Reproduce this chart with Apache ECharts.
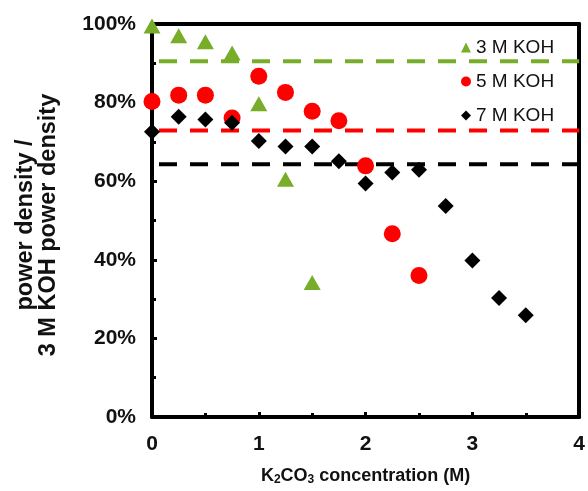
<!DOCTYPE html>
<html>
<head>
<meta charset="utf-8">
<script src="https://cdn.jsdelivr.net/npm/echarts@6/dist/echarts.min.js"></script>
<style>
  html, body { margin: 0; padding: 0; background: #fff; }
  #container { width: 588px; height: 491px; }
</style>
</head>
<body>
<div id="container"></div>
<script>
// K2CO3 concentration (M)
var conc = [0, 0.25, 0.5, 0.75, 1, 1.25, 1.5, 1.75, 2, 2.25, 2.5, 2.75, 3, 3.25, 3.5];

// power density relative to 3 M KOH (%)
var koh3 = [99.5, 97, 95.5, 92.6, 79.7, 60.5, 34.2];
var koh5 = [80.3, 81.9, 81.9, 76.1, 86.7, 82.6, 77.8, 75.4, 63.9, 46.6, 36.0];
var koh7 = [72.6, 76.4, 75.7, 74.9, 70.2, 68.8, 68.8, 65.1, 59.4, 62.2, 62.9, 53.7, 39.8, 30.3, 25.9];

// dashed reference levels (%)
var ref3 = 90.5;
var ref5 = 72.9;
var ref7 = 64.3;

var xTicks = [0, 1, 2, 3, 4];

var green = '#78ad29';
var red = '#ff0000';
var black = '#000000';

function pairs(vals) {
  return vals.map(function (v, i) { return [conc[i], v]; });
}
function level(v) {
  return [[xTicks[0], v], [xTicks[xTicks.length - 1], v]];
}

var dom = document.getElementById('container');
var myChart = echarts.init(dom);

var axisFont = { fontFamily: 'Liberation Sans', fontWeight: 'bold', fontSize: 21, color: '#111' };

function dashLine(name, v, color) {
  return {
    name: name,
    type: 'line',
    data: level(v),
    showSymbol: false,
    symbol: 'none',
    silent: true,
    animation: false,
    z: 1,
    lineStyle: { color: color, width: 4, type: [18, 13], dashOffset: 24 }
  };
}

var option = {
  animation: false,
  grid: { left: 152, top: 24, right: 5, bottom: 72, containLabel: false },
  legend: {
    data: ['3 M KOH', '5 M KOH', '7 M KOH'],
    orient: 'vertical',
    left: 456,
    top: 33,
    itemWidth: 10,
    itemHeight: 10,
    itemGap: 15,
    textStyle: { fontFamily: 'Liberation Sans', fontSize: 19, color: '#111' }
  },
  xAxis: [{
    type: 'value',
    min: 0,
    max: 4,
    interval: 1,
    splitLine: { show: false },
    axisLine: { lineStyle: { color: '#000', width: 4 } },
    axisTick: { inside: true, length: 5, lineStyle: { color: '#000', width: 3 } },
    minorTick: { show: true, splitNumber: 2, length: 4, lineStyle: { color: '#000', width: 3 } },
    axisLabel: Object.assign({ margin: 17 }, axisFont),
    name: '{t|K}{s|2}{t|CO}{s|3}{t| concentration (M)}',
    nameLocation: 'middle',
    nameGap: 49,
    nameTextStyle: {
      rich: {
        t: { fontFamily: 'Liberation Sans', fontWeight: 'bold', fontSize: 18, color: '#111' },
        s: { fontFamily: 'Liberation Sans', fontWeight: 'bold', fontSize: 12, color: '#111', padding: [8, 0, 0, 0] }
      }
    }
  }, {
    type: 'value',
    position: 'top',
    min: 0,
    max: 4,
    axisLine: { onZero: false, lineStyle: { color: '#000', width: 4 } },
    axisTick: { show: false },
    axisLabel: { show: false },
    splitLine: { show: false }
  }],
  yAxis: [{
    type: 'value',
    min: 0,
    max: 100,
    interval: 20,
    splitLine: { show: false },
    axisLine: { show: true, lineStyle: { color: '#000', width: 4 } },
    axisTick: { show: true, inside: true, length: 5, lineStyle: { color: '#000', width: 3 } },
    minorTick: { show: true, splitNumber: 2, length: 4, lineStyle: { color: '#000', width: 3 } },
    axisLabel: Object.assign({ margin: 16, formatter: '{value}%' }, axisFont),
    name: 'power density /\n3 M KOH power density',
    nameLocation: 'middle',
    nameGap: 92,
    nameTextStyle: {
      fontFamily: 'Liberation Sans', fontWeight: 'bold', fontSize: 23.5, color: '#111',
      lineHeight: 23, padding: [0, 9, 0, 0]
    }
  }, {
    type: 'value',
    position: 'right',
    min: 0,
    max: 100,
    axisLine: { show: true, onZero: false, lineStyle: { color: '#000', width: 4 } },
    axisTick: { show: false },
    axisLabel: { show: false },
    splitLine: { show: false }
  }],
  series: [
    dashLine('ref 3 M', ref3, green),
    dashLine('ref 5 M', ref5, red),
    dashLine('ref 7 M', ref7, black),
    {
      name: '3 M KOH',
      type: 'scatter',
      data: pairs(koh3),
      symbol: 'triangle',
      symbolSize: [17, 15],
      itemStyle: { color: green, opacity: 1 },
      z: 3
    },
    {
      name: '5 M KOH',
      type: 'scatter',
      data: pairs(koh5),
      symbol: 'circle',
      symbolSize: 17,
      itemStyle: { color: red, opacity: 1 },
      z: 3
    },
    {
      name: '7 M KOH',
      type: 'scatter',
      data: pairs(koh7),
      symbol: 'diamond',
      symbolSize: 16,
      itemStyle: { color: black, opacity: 1 },
      z: 4
    }
  ]
};

myChart.setOption(option);
</script>
</body>
</html>
